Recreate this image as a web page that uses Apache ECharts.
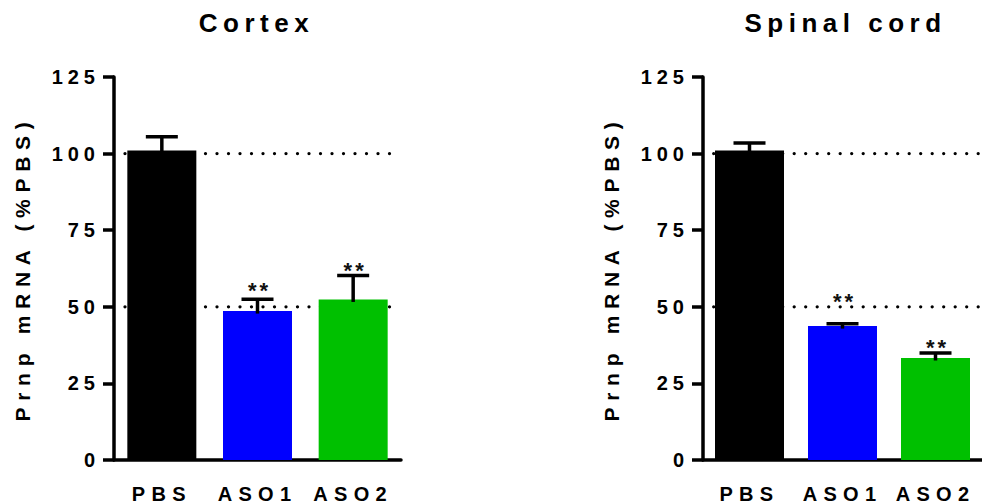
<!DOCTYPE html>
<html>
<head>
<meta charset="utf-8">
<script src="https://cdn.jsdelivr.net/npm/echarts@6/dist/echarts.min.js"></script>
<style>
  html, body { margin: 0; padding: 0; background: #fff; }
  #chart { width: 982px; height: 504px; }
</style>
</head>
<body>
<div id="chart"></div>
<script>
// Prnp knock-down by two antisense oligos, relative to PBS-treated controls
const categories = ['PBS', 'ASO1', 'ASO2'];
const panelTitles = ['Cortex', 'Spinal cord'];
const yAxisName = 'Prnp mRNA (%PBS)';

const cortexMean = [101.0, 48.6, 52.4];
const cortexSem = [4.5, 3.9, 7.8];
const spinalMean = [101.0, 43.7, 33.3];
const spinalSem = [2.5, 0.8, 1.6];

// significance marks and the axis value they sit at
const cortexSig = ['', '**', '**'];
const cortexSigAt = [null, 57.0, 63.6];
const spinalSig = ['', '**', '**'];
const spinalSigAt = [null, 53.3, 38.3];

// dotted reference levels (100 % and 50 %)
const refLevels = [100, 50];
const yMin = 0, yMax = 125, yStep = 25;

const barColors = ['#000000', '#0000FF', '#00C000'];
const FONT = "'Liberation Sans', Arial, Helvetica, sans-serif";

const chart = echarts.init(document.getElementById('chart'), null, { renderer: 'svg' });

const grids = [
  { left: 114, top: 77, width: 287, height: 383 },
  { left: 703, top: 77, width: 287, height: 383 }
];

function xAxisFor(gi) {
  return {
    type: 'category', gridIndex: gi, data: categories,
    axisLine: { lineStyle: { color: '#000', width: 3.5 } },
    axisTick: { alignWithLabel: true, length: 10, lineStyle: { color: '#000', width: 3.5 } },
    axisLabel: { color: '#000', fontFamily: FONT, fontWeight: 'bold', fontSize: 20, margin: 24 },
    splitLine: { show: false }
  };
}
function yAxisFor(gi) {
  return {
    type: 'value', gridIndex: gi, min: yMin, max: yMax, interval: yStep,
    name: yAxisName, nameLocation: 'middle', nameGap: 81,
    nameTextStyle: { color: '#000', fontFamily: FONT, fontWeight: 'bold', fontSize: 21 },
    axisLine: { show: true, lineStyle: { color: '#000', width: 3.5 } },
    axisTick: { show: true, length: 11, lineStyle: { color: '#000', width: 3.5 } },
    axisLabel: { color: '#000', fontFamily: FONT, fontWeight: 'bold', fontSize: 20, margin: 14 },
    splitLine: { show: false }
  };
}

function refSeries(gi) {
  return {
    type: 'custom', xAxisIndex: gi, yAxisIndex: gi, z: 1, silent: true,
    data: refLevels.map(v => [0, v]),
    renderItem: function (params, api) {
      const p = api.coord([api.value(0), api.value(1)]);
      const band = api.size([1, 0])[0];
      const cs = params.coordSys;
      return {
        type: 'line',
        shape: { x1: p[0] - band * 0.385, y1: p[1], x2: cs.x + cs.width, y2: p[1] },
        style: { stroke: '#000', lineWidth: 3.3, lineDash: [0, 11.5], lineCap: 'round' }
      };
    }
  };
}

function barSeries(gi, means) {
  return {
    type: 'bar', xAxisIndex: gi, yAxisIndex: gi, z: 2, barWidth: 69, silent: true,
    data: means.map((m, i) => ({ value: m, itemStyle: { color: barColors[i] } }))
  };
}

function errSeries(gi, means, sems) {
  return {
    type: 'custom', xAxisIndex: gi, yAxisIndex: gi, z: 3, silent: true,
    data: means.map((m, i) => [i, m, sems[i]]),
    encode: { x: 0, y: 1 },
    renderItem: function (params, api) {
      const i = api.value(0), m = api.value(1), e = api.value(2);
      const base = api.coord([i, m]);
      const top = api.coord([i, m + e]);
      const st = { stroke: '#000', lineWidth: 3.5 };
      return {
        type: 'group',
        children: [
          { type: 'line', shape: { x1: base[0], y1: base[1] + 2.5, x2: top[0], y2: top[1] }, style: st },
          { type: 'line', shape: { x1: top[0] - 16, y1: top[1], x2: top[0] + 16, y2: top[1] }, style: st }
        ]
      };
    }
  };
}

function sigSeries(gi, marks, at) {
  const data = [];
  marks.forEach((s, i) => { if (s) data.push([i, at[i], s]); });
  return {
    type: 'custom', xAxisIndex: gi, yAxisIndex: gi, z: 4, silent: true,
    data: data,
    encode: { x: 0, y: 1 },
    renderItem: function (params, api) {
      const p = api.coord([api.value(0), api.value(1)]);
      const d = data[params.dataIndex];
      return {
        type: 'text', x: p[0] + 2, y: p[1] + 5,
        style: { text: d[2], fill: '#111', fontFamily: FONT, fontWeight: 'bold', fontSize: 22, align: 'center', verticalAlign: 'middle' }
      };
    }
  };
}

const option = {
  animation: false,
  backgroundColor: '#fff',
  title: panelTitles.map((t, gi) => ({
    text: t, left: grids[gi].left + grids[gi].width / 2 - 1, top: 10, textAlign: 'center', padding: 0,
    textStyle: { color: '#000', fontFamily: FONT, fontWeight: 'bold', fontSize: 26 }
  })),
  grid: grids,
  xAxis: [xAxisFor(0), xAxisFor(1)],
  yAxis: [yAxisFor(0), yAxisFor(1)],
  series: [
    refSeries(0), barSeries(0, cortexMean), errSeries(0, cortexMean, cortexSem), sigSeries(0, cortexSig, cortexSigAt),
    refSeries(1), barSeries(1, spinalMean), errSeries(1, spinalMean, spinalSem), sigSeries(1, spinalSig, spinalSigAt)
  ]
};

chart.setOption(option);

// wide tracking on all labels, as in the GraphPad-style figure
function applyTracking() {
  document.querySelectorAll('#chart svg text').forEach(t => {
    const s = (t.textContent || '').trim();
    let px = 5;
    if (panelTitles.indexOf(s) >= 0) px = 5.5;
    else if (s === yAxisName) px = 6.7;
    else if (s === '**') px = 3;
    else if (categories.indexOf(s) >= 0) px = 6.3;
    t.style.letterSpacing = px + 'px';
  });
}
chart.on('finished', applyTracking);
applyTracking();
setTimeout(applyTracking, 50);
</script>
</body>
</html>
